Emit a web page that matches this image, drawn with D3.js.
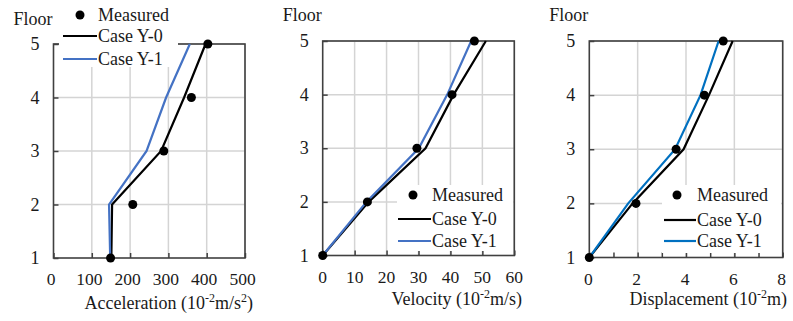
<!DOCTYPE html>
<html><head><meta charset="utf-8">
<script src="https://cdn.jsdelivr.net/npm/d3@7"></script>
<style>
html,body{margin:0;padding:0;background:#fff;}
svg{display:block;}
svg text{font-family:"Liberation Serif","Times New Roman",serif;}
</style></head>
<body><svg id="c" width="793" height="321"></svg>
<script>
// ---- data ----
const floors = [1, 2, 3, 4, 5];
const floorTicks = [1, 2, 3, 4, 5];
const seriesNames = ["Measured", "Case Y-0", "Case Y-1"];

const accMeasured = [149, 207, 288, 360, 403];
const accY0 = [151, 153, 281, 341, 397];
const accY1 = [148, 145, 243, 294, 356];
const accTicks = [0, 100, 200, 300, 400, 500];

const velMeasured = [0, 14.0, 29.5, 40.5, 47.5];
const velY0 = [0, 14.4, 32.2, 41.0, 51.1];
const velY1 = [0, 13.7, 30.1, 39.0, 46.5];
const velTicks = [0, 10, 20, 30, 40, 50, 60];

const dispMeasured = [0, 1.93, 3.59, 4.76, 5.54];
const dispY0 = [0, 1.79, 3.9, 4.95, 5.93];
const dispY1 = [0, 1.61, 3.55, 4.6, 5.35];
const dispTicks = [0, 2, 4, 6, 8];
const dispMinorTicks = [1, 3, 5, 7];

// ---- layout ----
const FONT = "Liberation Serif";
const panels = [
  {l:53.5, r:245, t:44, b:258, dom:[0,500], ticks:accTicks, minor:[], lblDx:-2.5,
   meas:accMeasured, y0:accY0, y1:accY1, blue:"#4472C4",
   title:["Acceleration (10","-2","m/s","2",")"], titleX:253, titleY:309, floorY:25,
   legend:{box:[59,0,119,67], dot:[80,15], lx:[63,97], tx:98, ys:[21,36,59]}},
  {l:322.7, r:514.3, t:41, b:255.5, dom:[0,60], ticks:velTicks, minor:[], lblDx:0,
   meas:velMeasured, y0:velY0, y1:velY1, blue:"#4472C4",
   title:["Velocity (10","-2","m/s)"], titleX:522, titleY:305, floorY:21,
   legend:{box:[397,185,116,66], dot:[413,195], lx:[398,431], tx:432, ys:[201,219,241]}},
  {l:589.3, r:782.7, t:41, b:257.5, dom:[0,8], ticks:dispTicks, minor:dispMinorTicks, lblDx:-1,
   meas:dispMeasured, y0:dispY0, y1:dispY1, blue:"#0070C0",
   title:["Displacement (10","-2","m)"], titleX:787, titleY:305, floorY:21,
   legend:{box:[662,185,119,68], dot:[677,195], lx:[664,696], tx:697, ys:[201,220,241]}}
];

const svg = d3.select("#c");
const axisCol = "#404040", gridCol = "#d4d4d4", txtCol = "#1a1a1a";

panels.forEach(p => {
  const x = d3.scaleLinear().domain(p.dom).range([p.l, p.r]);
  const y = d3.scaleLinear().domain([1,5]).range([p.b, p.t]);
  const g = svg.append("g");

  // grid
  g.append("g").selectAll("line").data(p.ticks.slice(1)).join("line")
    .attr("x1", d=>x(d)).attr("x2", d=>x(d)).attr("y1", p.t).attr("y2", p.b)
    .attr("stroke", gridCol).attr("stroke-width", 1.5);
  g.append("g").selectAll("line").data(floorTicks.slice(1)).join("line")
    .attr("x1", p.l).attr("x2", p.r).attr("y1", d=>y(d)).attr("y2", d=>y(d))
    .attr("stroke", gridCol).attr("stroke-width", 1.5);

  // frame
  g.append("rect").attr("x", p.l).attr("y", p.t).attr("width", p.r-p.l).attr("height", p.b-p.t)
    .attr("fill","none").attr("stroke", axisCol).attr("stroke-width", 1.6);

  // axes ticks (inward)
  const xa = d3.axisTop(x).tickValues(p.ticks.concat(p.minor)).tickSize(5).tickFormat("");
  const xg = g.append("g").attr("transform", `translate(0,${p.b})`).call(xa);
  xg.select(".domain").remove();
  xg.selectAll("line").attr("stroke", axisCol).attr("stroke-width", 1.5);
  const ya = d3.axisRight(y).tickValues(floorTicks).tickSize(5).tickFormat("");
  const yg = g.append("g").attr("transform", `translate(${p.l},0)`).call(ya);
  yg.select(".domain").remove();
  yg.selectAll("line").attr("stroke", axisCol).attr("stroke-width", 1.5);

  // tick labels
  g.append("g").selectAll("text").data(p.ticks).join("text")
    .attr("x", d=>x(d)+p.lblDx).attr("y", p.b+27).attr("text-anchor","middle")
    .attr("font-family", FONT).attr("font-size", 17.5).attr("fill",txtCol).text(d=>d);
  g.append("g").selectAll("text").data(floorTicks).join("text")
    .attr("x", p.l-14).attr("y", d=>y(d)+6).attr("text-anchor","end")
    .attr("font-family", FONT).attr("font-size", 18).attr("fill",txtCol).text(d=>d);

  // axis title
  const tt = g.append("text").attr("x", p.titleX).attr("y", p.titleY)
    .attr("text-anchor","end").attr("font-family", FONT).attr("font-size", 18).attr("fill",txtCol);
  p.title.forEach((s,i) => {
    const sup = (i % 2 === 1);
    const t = tt.append("tspan").text(s);
    if (sup) t.attr("font-size", 12).attr("dy", -7);
    else if (i > 0) t.attr("dy", 7);
  });
  g.append("text").attr("x", p.l-1).attr("y", p.floorY).attr("text-anchor","end")
    .attr("font-family", FONT).attr("font-size", 18).attr("fill",txtCol).text("Floor");

  // series
  const line = d3.line().x(d=>x(d[0])).y(d=>y(d[1]));
  g.append("path").datum(p.y0.map((v,i)=>[v,floors[i]])).attr("d", line)
    .attr("fill","none").attr("stroke","#000").attr("stroke-width", 2.2);
  g.append("path").datum(p.y1.map((v,i)=>[v,floors[i]])).attr("d", line)
    .attr("fill","none").attr("stroke",p.blue).attr("stroke-width", 2.2);
  g.append("g").selectAll("circle").data(p.meas.map((v,i)=>[v,floors[i]])).join("circle")
    .attr("cx", d=>x(d[0])).attr("cy", d=>y(d[1])).attr("r", 4.5).attr("fill","#000");

  // legend
  const L = p.legend;
  g.append("rect").attr("x", L.box[0]).attr("y", L.box[1]).attr("width", L.box[2]).attr("height", L.box[3])
    .attr("fill","#fff");
  g.append("circle").attr("cx", L.dot[0]).attr("cy", L.dot[1]).attr("r", 4.5).attr("fill","#000");
  g.append("line").attr("x1", L.lx[0]).attr("x2", L.lx[1]).attr("y1", L.ys[1]).attr("y2", L.ys[1])
    .attr("stroke","#000").attr("stroke-width", 2.2);
  g.append("line").attr("x1", L.lx[0]).attr("x2", L.lx[1]).attr("y1", L.ys[2]).attr("y2", L.ys[2])
    .attr("stroke",p.blue).attr("stroke-width", 2.2);
  seriesNames.forEach((nm,i) => {
    g.append("text").attr("x", L.tx).attr("y", i===0 ? L.ys[0] : L.ys[i]+6)
      .attr("font-family", FONT).attr("font-size",18).attr("fill",txtCol).text(nm);
  });
});
</script></body></html>
